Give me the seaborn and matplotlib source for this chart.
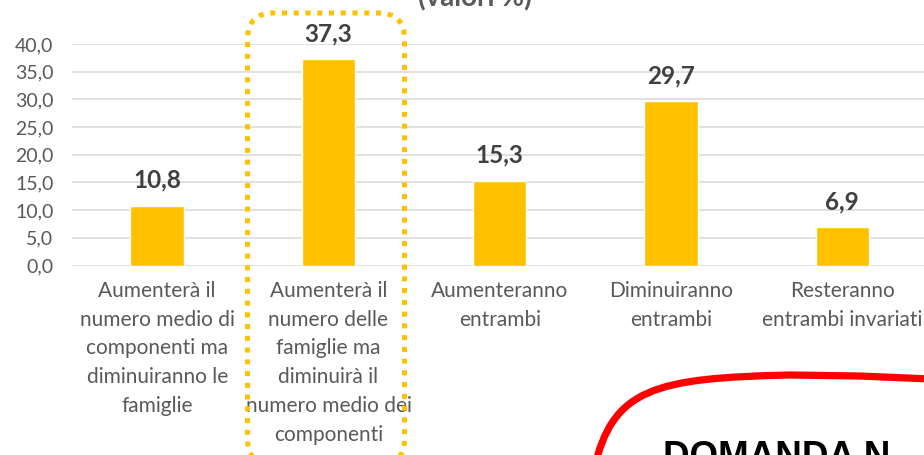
import matplotlib
matplotlib.use("Agg")
import matplotlib.pyplot as plt
import seaborn as sns
import pandas as pd
from matplotlib.patches import FancyBboxPatch, PathPatch
from matplotlib.path import Path
from matplotlib.transforms import IdentityTransform

# data
categorie = [
    "Aumenterà il\nnumero medio di\ncomponenti ma\ndiminuiranno le\nfamiglie",
    "Aumenterà il\nnumero delle\nfamiglie ma\ndiminuirà il\nnumero medio dei\ncomponenti",
    "Aumenteranno\nentrambi",
    "Diminuiranno\nentrambi",
    "Resteranno\nentrambi invariati",
]
valori = [10.8, 37.3, 15.3, 29.7, 6.9]
y_ticks = [0, 5, 10, 15, 20, 25, 30, 35, 40]

W, H = 924, 455
GIALLO = "#FFC000"
GRIGIO = "#595959"

sns.set_theme(style="white")
plt.rcParams["font.family"] = ["Lato", "DejaVu Sans"]

fig = plt.figure(figsize=(W / 100, H / 100), dpi=100)

# axes placed in pixels
left, right = 71.5, 928.0
y0_px, y40_px = 265.5, 44.0
ax = fig.add_axes([left / W, (H - y0_px) / H, (right - left) / W, (y0_px - y40_px) / H])

df = pd.DataFrame({"categoria": categorie, "valore": valori})
sns.barplot(data=df, x="categoria", y="valore", color=GIALLO, width=0.312,
            saturation=1, ax=ax, zorder=3)

ax.set_xlim(-0.5, 4.5)
ax.set_ylim(0, 40)
ax.set_yticks(y_ticks)
ax.set_yticklabels([f"{v:.1f}".replace(".", ",") for v in y_ticks])
ax.yaxis.grid(True, color="#D9D9D9", linewidth=1.1, zorder=0)
ax.set_axisbelow(True)
for s in ax.spines.values():
    s.set_visible(False)
ax.set_xlabel("")
ax.set_ylabel("")
ax.tick_params(axis="y", length=0, pad=13, labelsize=14, labelcolor=GRIGIO)
ax.tick_params(axis="x", length=0, pad=11, labelsize=15, labelcolor=GRIGIO)
for lab in ax.get_xticklabels():
    lab.set_linespacing(1.55)
    lab.set_multialignment("center")

ax.bar_label(ax.containers[0], labels=[f"{v:.1f}".replace(".", ",") for v in valori],
             padding=10, fontsize=17.5, fontweight="bold", color="#404040")

# title (cut off at the top)
fig.text(475 / W, 1 - 6 / H, "(valori %)", ha="center", va="baseline",
         fontsize=20, fontweight="bold", color=GRIGIO)

# dotted highlight box around the second bar
box = FancyBboxPatch((247.5, H - 465), 157, 465 - 13,
                     boxstyle="round,pad=0,rounding_size=26",
                     transform=IdentityTransform(), fill=False,
                     edgecolor=GIALLO, linewidth=3.6, linestyle=(0, (1, 1.35)))
fig.patches.append(box)

# red rounded frame in the bottom right
pts = [(594, 470), (612, 388), (655, 378), (790, 375), (860, 376), (930, 379)]
codes = [Path.MOVETO, Path.CURVE4, Path.CURVE4, Path.CURVE4, Path.LINETO, Path.LINETO]
path = Path([(x, H - y) for x, y in pts], codes)
fig.patches.append(PathPatch(path, transform=IdentityTransform(), fill=False,
                             edgecolor="#FF0000", linewidth=5.2, capstyle="butt"))

fig.text(663 / W, 1 - 440 / H, "DOMANDA N", ha="left", va="top",
         fontsize=26.5, fontweight="bold", color="black", family="Liberation Sans")

fig.savefig("out.png", dpi=100)
